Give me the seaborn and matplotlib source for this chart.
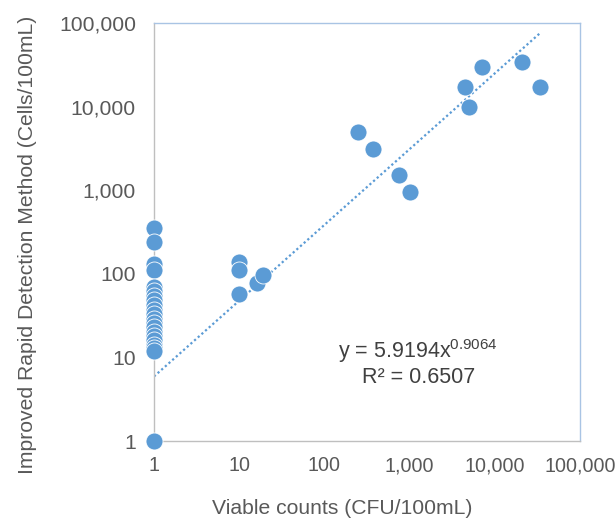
import matplotlib
matplotlib.use("Agg")
import matplotlib.pyplot as plt
import matplotlib.ticker as mticker
import seaborn as sns
import numpy as np
import pandas as pd

# 읽어낸 데이터 (x: viable counts, y: rapid detection)
viable = [1] * 21 + [10, 10, 10, 16, 19,
                     250, 370, 750, 1000, 4500, 5000, 7000, 21000, 34000]
rapid = [350, 240, 130, 110, 70, 62, 55, 48, 42, 37, 33, 29, 26, 23, 20, 18, 16, 14, 13, 12, 1,
         140, 112, 58, 78, 97,
         5000, 3100, 1500, 950, 17000, 10000, 30000, 34000, 17000]
coef_a = 5.9194
coef_b = 0.9064
r2 = 0.6507
ticks = [1, 10, 100, 1000, 10000, 100000]

df = pd.DataFrame({"viable": viable, "rapid": rapid})

sns.set_style("white")
plt.rcParams["font.family"] = ["Liberation Sans", "DejaVu Sans"]
plt.rcParams["mathtext.fontset"] = "custom"
plt.rcParams["mathtext.rm"] = "Liberation Sans"

fig = plt.figure(figsize=(6.16, 5.18), dpi=100)
ax = fig.add_axes([0.25, 0.1486, 0.6916, 0.807])

blue = "#5B9BD5"
sns.scatterplot(data=df, x="viable", y="rapid", ax=ax, s=150, color=blue,
                edgecolor="white", linewidth=0.6, zorder=3, clip_on=False)

# 추세선 (power fit)
xs = np.logspace(0, np.log10(max(viable)), 200)
ax.plot(xs, coef_a * xs ** coef_b, color=blue, linestyle=(0, (1, 1.2)), linewidth=1.6, zorder=2)

ax.set_xscale("log")
ax.set_yscale("log")
ax.set_xlim(1, 100000)
ax.set_ylim(1, 100000)
ax.set_xticks(ticks)
ax.set_yticks(ticks)
ax.xaxis.set_minor_locator(mticker.NullLocator())
ax.yaxis.set_minor_locator(mticker.NullLocator())
fmt = mticker.FuncFormatter(lambda v, p: f"{int(v):,}")
ax.xaxis.set_major_formatter(fmt)
ax.yaxis.set_major_formatter(fmt)
ax.tick_params(colors="#595959", length=0)
ax.tick_params(axis="y", pad=13, labelsize=15.2)
ax.tick_params(axis="x", pad=11, labelsize=14.2)

for s in ["left", "bottom"]:
    ax.spines[s].set_color("#BFBFBF")
for s in ["top", "right"]:
    ax.spines[s].set_color("#A9C4E4")
for s in ax.spines.values():
    s.set_linewidth(1.0)

ax.set_xlabel("Viable counts (CFU/100mL)", fontsize=15.2, color="#595959", labelpad=17)
ax.set_ylabel("Improved Rapid Detection Method (Cells/100mL)", fontsize=15.2,
              color="#595959", labelpad=16)
ax.xaxis.label.set_x(0.441)
ax.yaxis.label.set_y(0.469)

ax.text(0.62, 0.215, f"y = {coef_a}x$^{{{coef_b}}}$", transform=ax.transAxes,
        ha="center", va="center", fontsize=15.5, color="#404040")
ax.text(0.62, 0.152, f"R² = {r2}", transform=ax.transAxes,
        ha="center", va="center", fontsize=15.5, color="#404040")

fig.savefig("out.png", dpi=100)
